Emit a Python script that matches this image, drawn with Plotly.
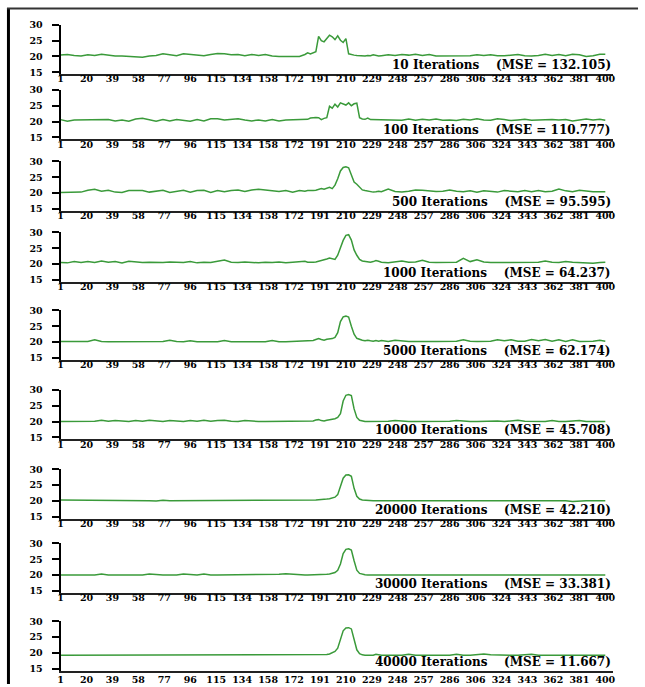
import plotly.graph_objects as go
from plotly.subplots import make_subplots

# sample positions (index axis); values at these positions
X = list(range(1, 177, 5)) + list(range(180, 235, 2)) + list(range(236, 397, 5)) + [400]

it10 = [20.4, 20.6, 20.3, 20.1, 20.5, 20.3, 20.7, 20.3, 20.1, 20.1, 20.0, 19.8, 19.7, 20.1, 20.3, 20.8, 20.5, 20.2,
        20.8, 20.6, 20.2, 20.2, 20.6, 20.9, 20.8, 20.5, 20.6, 20.2, 20.6, 20.3, 20.6, 20.1, 20.0, 20.0, 20.0, 20.0,
        20.6, 21.1, 20.8, 21.2, 21.5, 26.3, 25.0, 24.6, 25.8, 26.7, 26.2, 25.3, 26.5, 25.1, 24.4, 25.6, 20.8, 20.5,
        20.4, 20.3, 20.2, 20.3, 20.1, 20.3, 20.2, 20.5, 20.2, 20.1,
        20.2, 20.5, 20.3, 20.6, 20.4, 20.7, 20.3, 20.6, 20.1, 20.1, 20.1, 20.1, 20.1, 20.2, 20.5, 20.3, 20.5, 20.2,
        20.2, 20.3, 20.6, 20.2, 20.1, 20.3, 20.7, 20.3, 20.6, 20.2, 20.7, 20.5, 20.0, 20.2, 20.7, 20.7]

it100 = [20.6, 20.1, 20.5, 20.5, 20.5, 20.6, 20.6, 20.6, 20.2, 20.5, 20.1, 20.8, 21.0, 20.6, 20.1, 20.6, 20.2, 20.6,
         20.3, 20.1, 20.6, 20.2, 20.9, 20.9, 20.5, 20.6, 20.9, 20.5, 20.2, 20.5, 20.2, 20.6, 20.2, 20.5, 20.6, 20.6,
         20.6, 20.7, 21.1, 21.3, 21.3, 21.2, 20.6, 21.0, 21.2, 24.8, 24.2, 25.5, 24.6, 25.9, 25.6, 25.2, 25.9, 25.0,
         25.6, 25.8, 21.2, 20.8, 20.7, 21.1, 20.6, 20.6, 20.6, 20.6,
         20.5, 20.5, 20.5, 20.4, 20.8, 20.4, 20.7, 20.5, 20.8, 20.4, 20.5, 20.3, 20.7, 20.5, 20.9, 20.5, 20.4, 20.9,
         20.6, 20.3, 20.5, 20.7, 20.4, 20.5, 20.5, 20.6, 20.5, 20.6, 20.2, 20.6, 20.8, 20.5, 20.7, 20.4]

it500 = [20.2, 20.2, 20.2, 20.3, 20.9, 21.2, 20.6, 20.9, 20.3, 20.2, 20.8, 20.7, 20.8, 20.3, 20.6, 20.9, 20.2, 20.6,
         20.9, 20.3, 20.8, 20.9, 20.2, 20.8, 20.4, 20.8, 21.0, 20.5, 21.0, 21.2, 20.9, 20.8, 20.5, 20.8, 20.3, 20.8,
         20.6, 20.8, 20.7, 20.8, 20.9, 21.2, 21.4, 21.2, 21.6, 21.8, 21.4, 22.5, 24.5, 27.0, 28.1, 28.3, 28.0, 25.5,
         23.5, 22.8, 22.0, 21.0, 20.8, 20.6, 20.5, 20.3, 20.4, 20.6,
         20.4, 21.3, 20.5, 20.3, 20.6, 21.0, 20.9, 20.6, 20.5, 20.6, 21.0, 20.6, 20.4, 20.7, 20.3, 20.7, 20.5, 20.3,
         20.8, 20.7, 20.4, 20.8, 20.4, 20.8, 20.4, 20.6, 21.3, 20.7, 20.4, 20.9, 20.6, 20.4, 20.4, 20.4]

it1000 = [20.5, 20.4, 20.8, 20.5, 20.8, 20.5, 21.0, 20.6, 20.8, 20.4, 20.9, 20.6, 20.5, 20.6, 20.5, 20.5, 20.7, 20.5,
          20.5, 20.8, 20.4, 20.6, 20.5, 20.9, 21.3, 20.6, 20.5, 20.7, 20.5, 20.4, 20.6, 20.5, 20.7, 20.4, 20.6, 20.8,
          20.9, 20.6, 20.5, 20.6, 20.7, 20.9, 21.0, 21.3, 21.6, 21.9, 21.7, 21.5, 22.8, 25.2, 27.5, 29.1, 29.3, 27.6,
          24.5, 22.8, 21.5, 21.0, 20.8, 20.7, 20.6, 20.8, 21.1, 20.9,
          20.6, 20.4, 20.8, 21.0, 20.6, 20.7, 21.2, 20.6, 20.5, 20.5, 20.5, 20.6, 21.8, 20.8, 21.4, 20.7, 20.5, 20.5,
          20.5, 20.6, 20.5, 20.7, 20.5, 20.6, 21.0, 20.6, 20.5, 20.8, 20.6, 20.5, 20.6, 20.3, 20.5, 20.6]

it5000 = [20.2, 20.2, 20.2, 20.3, 20.2, 20.7, 20.2, 20.1, 20.1, 20.1, 20.1, 20.1, 20.1, 20.1, 20.1, 20.2, 20.6, 20.2,
          20.1, 20.4, 20.1, 20.1, 20.2, 20.1, 20.5, 20.1, 20.1, 20.2, 20.1, 20.1, 20.1, 20.5, 20.1, 20.1, 20.2, 20.2,
          20.2, 20.3, 20.4, 20.5, 20.8, 21.1, 20.8, 20.6, 20.9, 21.0, 21.1, 21.5, 23.0, 26.5, 28.0, 28.2, 27.9, 25.0,
          22.5, 21.2, 20.8, 20.6, 20.4, 20.6, 20.4, 20.3, 20.5, 20.3,
          20.5, 20.2, 20.6, 20.3, 20.2, 20.2, 20.3, 20.2, 20.2, 20.2, 20.2, 20.3, 20.7, 20.3, 20.2, 20.2, 20.3, 20.7,
          20.4, 20.7, 20.3, 20.3, 20.8, 20.4, 20.8, 20.3, 20.7, 20.2, 20.7, 20.2, 20.2, 20.3, 20.6, 20.3]

it10000 = [20.0, 20.0, 20.0, 20.0, 20.0, 20.1, 20.4, 20.1, 20.3, 20.1, 20.0, 20.3, 20.1, 20.4, 20.1, 20.0, 20.3, 20.1,
           20.0, 20.3, 20.1, 20.4, 20.1, 20.3, 20.4, 20.1, 20.0, 20.3, 20.1, 20.0, 20.0, 20.0, 20.0, 20.0, 20.0, 20.0,
           20.0, 20.0, 20.1, 20.2, 20.5, 20.6, 20.3, 20.2, 20.4, 20.5, 20.7, 20.9, 21.3, 22.5, 26.5, 28.3, 28.5, 28.2,
           24.0, 21.3, 20.4, 20.1, 20.0, 20.0, 20.0, 20.0, 20.0, 20.0,
           20.0, 20.1, 20.3, 20.1, 20.0, 20.0, 20.0, 20.0, 20.0, 20.0, 20.1, 20.3, 20.1, 20.0, 20.0, 20.1, 20.3, 20.2,
           20.0, 20.1, 20.4, 20.1, 20.0, 20.0, 20.0, 20.3, 20.0, 20.0, 20.1, 20.3, 20.0, 20.0, 20.0, 20.0]

it20000 = [20.3, 20.3, 20.2, 20.3, 20.1, 20.2, 20.2, 20.1, 20.1, 20.2, 20.1, 20.1, 20.2, 20.1, 20.0, 20.2, 20.1, 20.1,
           20.2, 20.3, 20.1, 20.1, 20.1, 20.2, 20.1, 20.1, 20.1, 20.1, 20.1, 20.2, 20.1, 20.1, 20.1, 20.1, 20.1, 20.1,
           20.1, 20.1, 20.2, 20.2, 20.3, 20.4, 20.4, 20.5, 20.6, 20.7, 20.9, 21.2, 22.0, 24.5, 27.2, 28.2, 28.3, 27.8,
           24.0, 21.5, 20.6, 20.3, 20.2, 20.1, 20.1, 20.1, 20.1, 20.1,
           20.1, 20.1, 20.2, 20.1, 20.1, 20.1, 20.1, 20.2, 20.1, 20.1, 20.1, 20.1, 20.2, 20.1, 20.1, 20.1, 20.1, 20.1,
           20.1, 20.2, 20.1, 20.1, 20.1, 20.1, 20.1, 20.1, 20.1, 20.1, 19.8, 20.0, 20.1, 20.1, 20.1, 20.1]

it30000 = [20.0, 20.0, 20.0, 20.0, 20.0, 20.0, 20.3, 20.0, 20.0, 20.0, 20.0, 20.0, 20.0, 20.3, 20.1, 20.0, 20.0, 20.0,
           20.3, 20.1, 20.0, 20.3, 20.0, 20.0, 20.0, 20.0, 20.0, 20.0, 20.0, 20.0, 20.0, 20.0, 20.2, 20.4, 20.2, 20.0,
           20.0, 20.0, 20.0, 20.0, 20.1, 20.1, 20.1, 20.2, 20.2, 20.3, 20.5, 20.8, 21.5, 23.5, 26.8, 28.1, 28.3, 27.9,
           24.5, 21.5, 20.5, 20.2, 20.1, 20.0, 20.0, 20.0, 20.0, 20.0,
           20.0, 20.0, 20.0, 20.0, 20.0, 20.0, 20.0, 20.0, 20.0, 20.0, 20.2, 20.0, 20.0, 20.0, 20.0, 20.0, 20.0, 20.0,
           20.0, 20.0, 20.0, 20.2, 20.0, 20.0, 20.0, 20.0, 20.0, 20.0, 20.0, 20.0, 20.0, 20.0, 20.0, 20.0]

it40000 = [19.3, 19.3, 19.3, 19.3, 19.3, 19.3, 19.3, 19.3, 19.3, 19.3, 19.3, 19.3, 19.3, 19.3, 19.3, 19.3, 19.3, 19.3,
           19.3, 19.3, 19.3, 19.3, 19.3, 19.3, 19.3, 19.3, 19.3, 19.3, 19.3, 19.3, 19.3, 19.3, 19.3, 19.3, 19.3, 19.3,
           19.3, 19.3, 19.3, 19.3, 19.3, 19.3, 19.3, 19.4, 19.5, 19.7, 20.0, 20.5, 21.5, 24.0, 27.0, 27.9, 28.0, 27.6,
           24.5, 21.0, 19.8, 19.4, 19.3, 19.3, 19.3, 19.3, 19.6, 19.4,
           19.3, 19.3, 19.3, 19.3, 19.6, 19.3, 19.3, 19.3, 19.3, 19.3, 19.3, 19.6, 19.3, 19.3, 19.5, 19.7, 19.4, 19.3,
           19.3, 19.3, 19.3, 19.4, 19.6, 19.3, 19.3, 19.3, 19.3, 19.3, 19.3, 19.3, 19.3, 19.3, 19.3, 19.3]

series = [it10, it100, it500, it1000, it5000, it10000, it20000, it30000, it40000]
iterations = ["10", "100", "500", "1000", "5000", "10000", "20000", "30000", "40000"]
mse = ["132.105", "110.777", "95.595", "64.237", "62.174", "45.708", "42.210", "33.381", "11.667"]

x_tickvals = [1, 20, 39, 58, 77, 96, 115, 134, 153, 172, 191, 210, 229, 248, 267, 286, 305, 324, 343, 362, 381, 400]
x_ticktext = ["1", "20", "39", "58", "77", "96", "115", "134", "158", "172", "191", "210", "229", "248", "257",
              "286", "306", "324", "343", "362", "381", "400"]
y_ticks = [15, 20, 25, 30]

W, H = 645, 687
bottoms = [69, 135, 207.5, 279.5, 358.5, 439, 519.5, 594.5, 673.5]   # pixel rows of each x axis line
standoffs = [-5, -5, -5, -5, -5, -5, -5, -5, -1]
panel_h = 50
x_left, x_right = 58, 615


def px(x):
    return x / W


def py(y):
    return 1 - y / H


FONT = "DejaVu Serif"
GREEN = "#3a9a3a"

fig = make_subplots(rows=9, cols=1)
for i, ys in enumerate(series):
    fig.add_trace(go.Scatter(x=X, y=ys, mode="lines", line=dict(color=GREEN, width=1.5), showlegend=False,
                             hoverinfo="skip"),
                  row=i + 1, col=1)

layout_upd = {}
for i, b in enumerate(bottoms):
    n = "" if i == 0 else str(i + 1)
    layout_upd["xaxis" + n] = dict(
        domain=[px(x_left), px(x_right)], range=[1, 405.8], tickmode="array", tickvals=x_tickvals,
        ticktext=x_ticktext, ticks="", showgrid=False, zeroline=False, showline=True, linecolor="#222",
        linewidth=2, tickfont=dict(family=FONT, size=9.5, color="black", weight="bold"),
        ticklabelstandoff=standoffs[i], fixedrange=True)
    layout_upd["yaxis" + n] = dict(
        domain=[py(b), py(b - panel_h)], range=[14.4, 30], tickmode="array", tickvals=y_ticks,
        ticks="outside", ticklen=7, tickwidth=1.5, tickcolor="black", showgrid=False, zeroline=False,
        showline=True, linecolor="black", linewidth=2,
        tickfont=dict(family=FONT, size=9.5, color="black", weight="bold"), ticklabelstandoff=7, fixedrange=True)

annotations = []
for i, (it, m) in enumerate(zip(iterations, mse)):
    n = "" if i == 0 else str(i + 1)
    annotations.append(dict(
        text=f"{it} Iterations\u00a0\u00a0\u00a0\u00a0(MSE = {m})", xref="paper", x=px(x_right), xanchor="right",
        yref="y" + n + " domain", y=0, yanchor="bottom", showarrow=False,
        font=dict(family=FONT, size=12, color="black", weight="bold")))

shapes = [
    dict(type="line", xref="paper", yref="paper", x0=px(5.5), x1=px(5.5), y0=0, y1=py(2),
         line=dict(color="black", width=3)),
    dict(type="line", xref="paper", yref="paper", x0=px(4), x1=px(640), y0=py(2.5), y1=py(2.5),
         line=dict(color="#333", width=2)),
]

fig.update_layout(**layout_upd)
fig.update_layout(width=W, height=H, autosize=False, margin=dict(l=0, r=0, t=0, b=0),
                  paper_bgcolor="white", plot_bgcolor="white", annotations=annotations, shapes=shapes,
                  hovermode=False)

fig.write_html("out.html", config={"displayModeBar": False},
               post_script="document.body.style.margin='0px';")
